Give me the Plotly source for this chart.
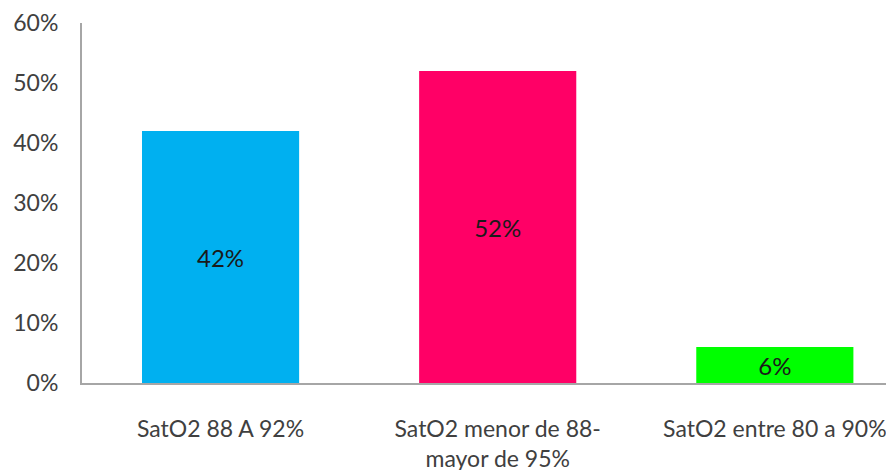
import plotly.graph_objects as go

categories = ["SatO2 88 A 92%", "SatO2 menor de 88-<br>mayor de 95%", "SatO2 entre 80 a 90%"]
values = [0.42, 0.52, 0.06]
labels = ["42%", "52%", "6%"]
colors = ["#00B0F0", "#FF0066", "#00FF00"]

font_family = "Lato, 'Open Sans', sans-serif"

fig = go.Figure(go.Bar(
    x=categories,
    y=values,
    marker=dict(color=colors, line=dict(width=0)),
    width=0.567,
    text=labels,
    textposition="inside",
    insidetextanchor="middle",
    textangle=0,
    textfont=dict(family=font_family, size=24, color="#1a1a1a"),
    hoverinfo="skip",
))

# the page body adds an 8px offset, so margins are shifted to compensate
fig.update_layout(
    width=894,
    height=470,
    margin=dict(l=74, r=8, t=15, b=95),
    plot_bgcolor="white",
    paper_bgcolor="white",
    showlegend=False,
    font=dict(family=font_family, size=23, color="#404040"),
)

fig.update_xaxes(
    range=[-0.5, 2.43],
    automargin=False,
    showline=True,
    linecolor="#a6a6a6",
    linewidth=2,
    ticks="",
    tickfont=dict(size=23, color="#404040"),
    ticklabelstandoff=24,
)

fig.update_yaxes(
    range=[0, 0.6],
    dtick=0.1,
    tickformat=".0%",
    automargin=False,
    showgrid=False,
    zeroline=False,
    showline=True,
    linecolor="#a6a6a6",
    linewidth=2,
    ticks="",
    ticklabelstandoff=17,
    tickfont=dict(size=23, color="#404040"),
)

fig.write_html("out.html")
